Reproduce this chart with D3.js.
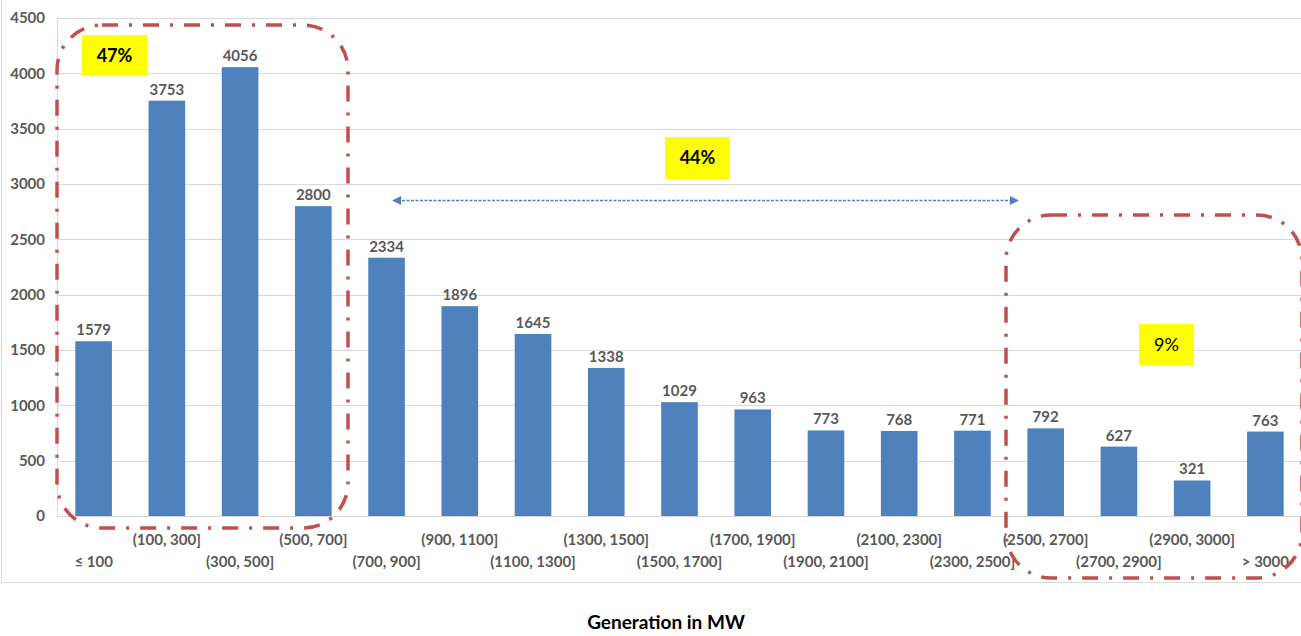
<!DOCTYPE html>
<html>
<head>
<meta charset="utf-8">
<script src="https://cdn.jsdelivr.net/npm/d3@7"></script>
<style>
  html, body { margin: 0; padding: 0; background: #fff; }
  svg { display: block; font-family: Lato, "Open Sans", sans-serif; }
</style>
</head>
<body>
<svg id="chart" width="1301" height="636"></svg>
<script>
// Count of units per generation band
const categories = ["≤ 100", "(100, 300]", "(300, 500]", "(500, 700]", "(700, 900]",
  "(900, 1100]", "(1100, 1300]", "(1300, 1500]", "(1500, 1700]", "(1700, 1900]",
  "(1900, 2100]", "(2100, 2300]", "(2300, 2500]", "(2500, 2700]", "(2700, 2900]",
  "(2900, 3000]", "> 3000"];
const values = [1579, 3753, 4056, 2800, 2334, 1896, 1645, 1338, 1029, 963, 773, 768, 771, 792, 627, 321, 763];
const yTicks = [0, 500, 1000, 1500, 2000, 2500, 3000, 3500, 4000, 4500];
const xTitle = "Generation in MW";

// Share of units in each highlighted group
const groupLabels = ["47%", "44%", "9%"];

const W = 1301, H = 636;
const M = { left: 57, right: 1302, top: 18, bottom: 516 };

const svg = d3.select("#chart");

const x = d3.scaleBand().domain(categories).range([M.left, M.right]).paddingInner(0.5).paddingOuter(0.25);
const y = d3.scaleLinear().domain([0, 4500]).range([M.bottom, M.top]);

// outer chart border (left and bottom edges visible)
svg.append("line").attr("x1", 1.5).attr("x2", 1.5).attr("y1", 0).attr("y2", 582.5)
  .attr("stroke", "#d9d9d9").attr("stroke-width", 1);
svg.append("line").attr("x1", 1.5).attr("x2", W).attr("y1", 582.5).attr("y2", 582.5)
  .attr("stroke", "#d9d9d9").attr("stroke-width", 1);

// gridlines
svg.append("g").selectAll("line").data(yTicks).join("line")
  .attr("x1", M.left).attr("x2", W)
  .attr("y1", d => Math.round(y(d)) + 0.5).attr("y2", d => Math.round(y(d)) + 0.5)
  .attr("stroke", "#d9d9d9").attr("stroke-width", 1);

// y axis line
svg.append("line").attr("x1", M.left + 0.5).attr("x2", M.left + 0.5)
  .attr("y1", M.top).attr("y2", M.bottom + 0.5)
  .attr("stroke", "#d9d9d9");

// y tick labels
const yAxis = d3.axisLeft(y).tickValues(yTicks).tickFormat(d3.format("d")).tickSize(0).tickPadding(12);
const gy = svg.append("g").attr("transform", `translate(${M.left},0)`).call(yAxis);
gy.select(".domain").remove();
gy.selectAll("text").attr("font-size", 15).attr("font-weight", "bold")
  .attr("fill", "#595959").attr("font-family", "Lato, sans-serif");

// bars
svg.append("g").selectAll("rect").data(values).join("rect")
  .attr("x", (d, i) => x(categories[i]))
  .attr("width", x.bandwidth())
  .attr("y", d => y(d))
  .attr("height", d => y(0) - y(d))
  .attr("fill", "#4f81bd");

// value labels
svg.append("g").selectAll("text").data(values).join("text")
  .attr("x", (d, i) => x(categories[i]) + x.bandwidth() / 2)
  .attr("y", d => y(d) - 6)
  .attr("text-anchor", "middle")
  .attr("font-size", 15).attr("font-weight", "bold").attr("fill", "#595959")
  .text(d => d);

// category labels, staggered on two rows
svg.append("g").selectAll("text").data(categories).join("text")
  .attr("x", d => x(d) + x.bandwidth() / 2)
  .attr("y", (d, i) => i % 2 === 0 ? 567 : 545)
  .attr("text-anchor", "middle")
  .attr("font-size", 15).attr("font-weight", "bold").attr("fill", "#595959")
  .text(d => d);

// axis title
svg.append("text").attr("x", 666).attr("y", 629).attr("text-anchor", "middle")
  .attr("font-size", 19).attr("font-weight", "bold").attr("fill", "#000")
  .text(xTitle);

// rounded dash-dot group outlines
const red = "#c0504d";
function groupBox(x0, y0, x1, y1, r) {
  svg.append("rect").attr("x", x0).attr("y", y0)
    .attr("width", x1 - x0).attr("height", y1 - y0)
    .attr("rx", r).attr("ry", r)
    .attr("fill", "none").attr("stroke", red).attr("stroke-width", 3.5)
    .attr("stroke-dasharray", "16 11 3 11");
}
groupBox(57, 25, 348, 528, 45);
groupBox(1006, 215, 1302, 578, 45);

// dashed double-headed arrow spanning the middle group
const defs = svg.append("defs");
defs.append("marker").attr("id", "arrow-head")
  .attr("viewBox", "0 0 10 10").attr("refX", 9).attr("refY", 5)
  .attr("markerUnits", "userSpaceOnUse")
  .attr("markerWidth", 10).attr("markerHeight", 9)
  .attr("orient", "auto-start-reverse")
  .append("path").attr("d", "M0,0 L10,5 L0,10 Z").attr("fill", "#4f81bd");
svg.append("line").attr("x1", 393).attr("x2", 1018).attr("y1", 200.5).attr("y2", 200.5)
  .attr("stroke", "#4f81bd").attr("stroke-width", 1.5).attr("stroke-dasharray", "3 1.5")
  .attr("marker-start", "url(#arrow-head)").attr("marker-end", "url(#arrow-head)");

// yellow share labels
function shareLabel(text, x0, y0, w, h, bold) {
  svg.append("rect").attr("x", x0).attr("y", y0).attr("width", w).attr("height", h).attr("fill", "#ffff00");
  svg.append("text").attr("x", x0 + w / 2).attr("y", y0 + h / 2 + 6)
    .attr("text-anchor", "middle").attr("font-size", 18)
    .attr("font-weight", bold ? "bold" : "normal").attr("fill", "#000")
    .text(text);
}
shareLabel(groupLabels[0], 82, 35, 65, 41, true);
shareLabel(groupLabels[1], 665, 137, 65, 42, true);
shareLabel(groupLabels[2], 1139, 324, 55, 41, false);
</script>
</body>
</html>
